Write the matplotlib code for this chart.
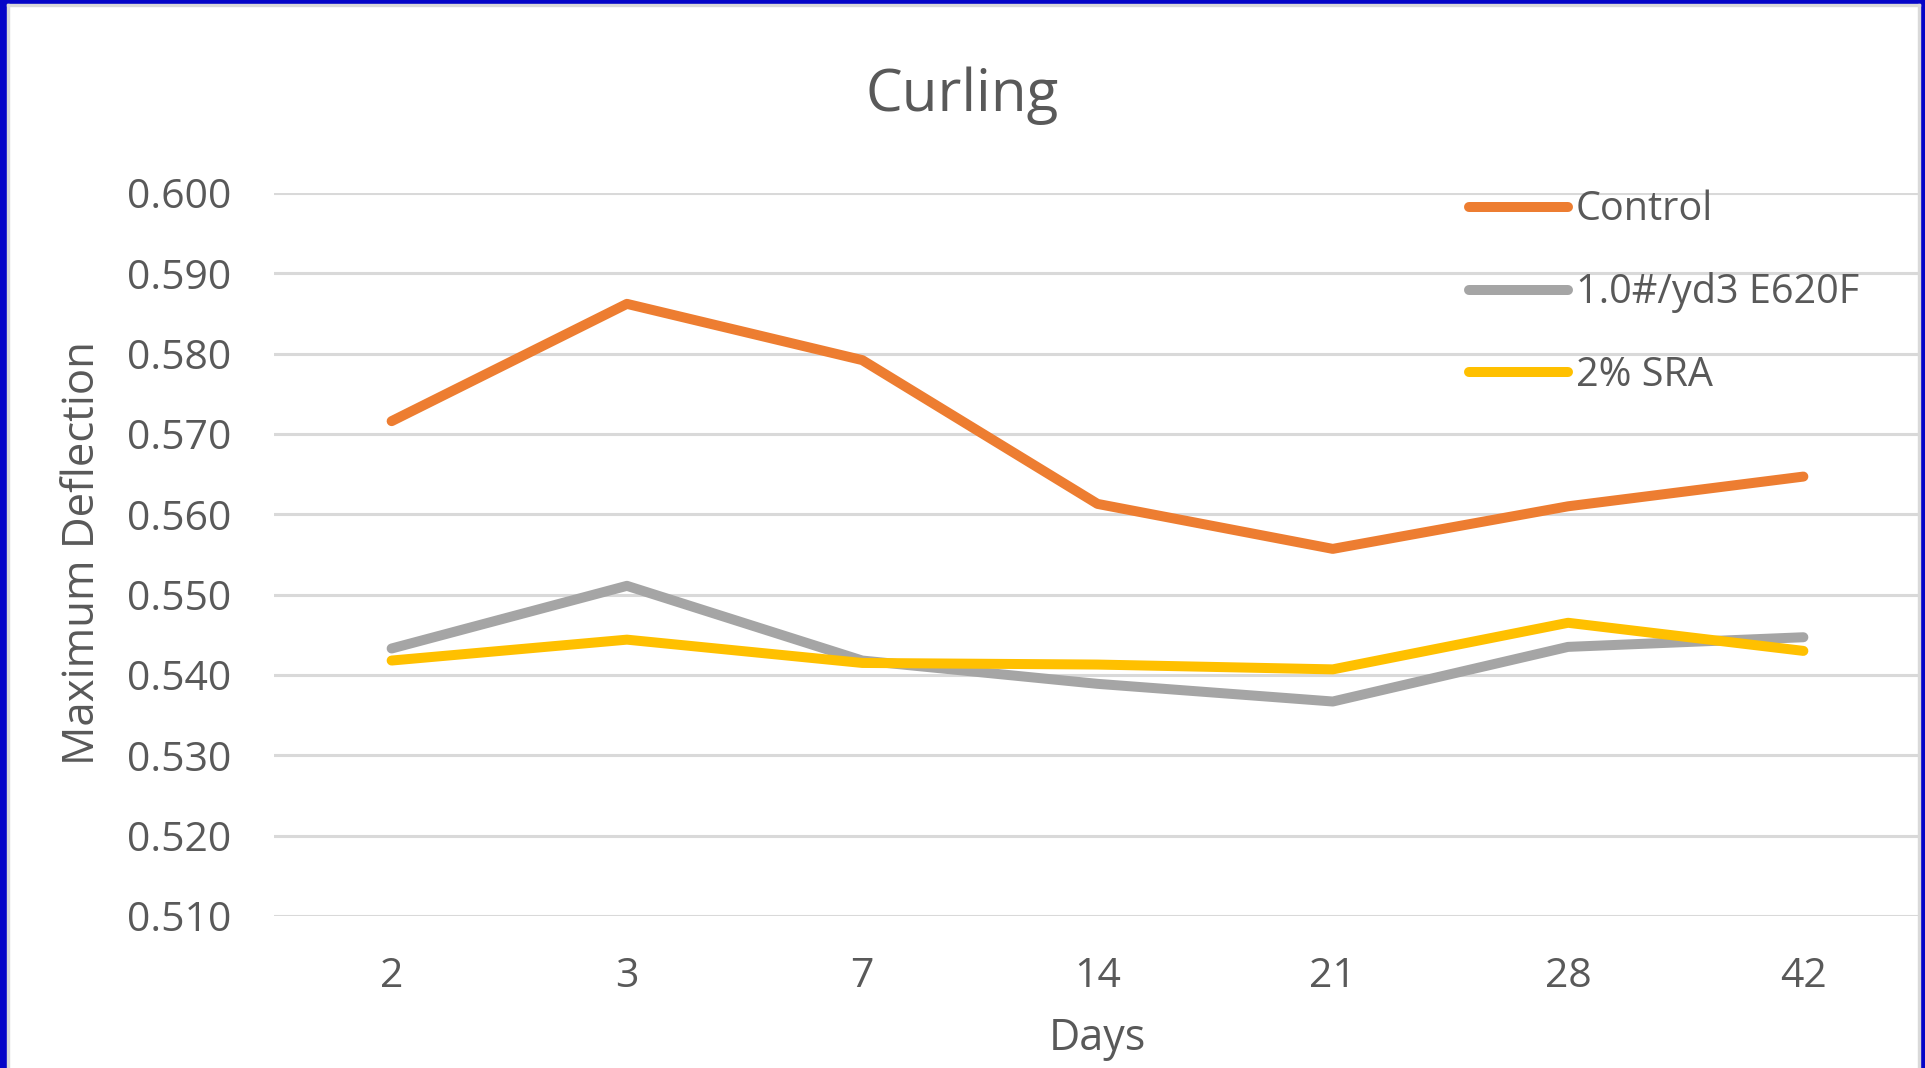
import matplotlib
matplotlib.use('Agg')
import matplotlib.pyplot as plt
from matplotlib.patches import Rectangle

# Data
days = ['2', '3', '7', '14', '21', '28', '42']
control = [0.5716, 0.5862, 0.5792, 0.5613, 0.5557, 0.5610, 0.5647]
e620f = [0.5433, 0.5511, 0.5418, 0.5389, 0.5367, 0.5435, 0.5447]
sra = [0.5418, 0.5444, 0.5415, 0.5413, 0.5407, 0.5465, 0.5430]
series_names = ['Control', '1.0#/yd3 E620F', '2% SRA']
yticks = [0.510, 0.520, 0.530, 0.540, 0.550, 0.560, 0.570, 0.580, 0.590, 0.600]

# Styling
text_color = '#595959'
grid_color = '#D9D9D9'
line_colors = ['#ED7D31', '#A5A5A5', '#FFC000']
plt.rcParams['font.family'] = ['Open Sans', 'DejaVu Sans']

W, H = 1925, 1068
fig = plt.figure(figsize=(W / 100, H / 100), dpi=100)
fig.patch.set_facecolor('white')

# Plot area in pixel coords -> figure fractions
left, right, bottom, top = 274, 1921, 1068 - 916, 1068 - 193
ax = fig.add_axes([left / W, bottom / H, (right - left) / W, (top - bottom) / H])

x = list(range(len(days)))
for vals, col, name in zip([control, e620f, sra], line_colors, series_names):
    ax.plot(x, vals, color=col, lw=7.2, label=name,
            solid_capstyle='round', solid_joinstyle='round', zorder=3)

ax.set_xlim(-0.5, len(days) - 0.5)
ax.set_ylim(0.510, 0.600)
ax.set_yticks(yticks)
ax.set_yticklabels([f'{v:.3f}' for v in yticks])
ax.set_xticks(x)
ax.set_xticklabels(days)

for s in ax.spines.values():
    s.set_visible(False)
ax.grid(axis='y', color=grid_color, lw=2.2, zorder=0)
ax.set_axisbelow(True)
ax.tick_params(axis='both', length=0, labelsize=29.5, labelcolor=text_color)
ax.tick_params(axis='y', pad=31)
ax.tick_params(axis='x', pad=29)

# Titles
fig.text(0.5, 1 - 111 / H, 'Curling', ha='center', va='baseline',
         fontsize=42, color=text_color)
fig.text(83 / W, 0.482, 'Maximum Deflection', rotation=90, ha='center',
         va='center', fontsize=31.5, color=text_color)
fig.text((left + right) / 2 / W, 1 - 1050 / H, 'Days', ha='center',
         va='baseline', fontsize=31, color=text_color)

# Legend
leg = ax.legend(loc='upper left', bbox_to_anchor=(1469 / W, 1 - 190 / H),
                bbox_transform=fig.transFigure, frameon=False, fontsize=28.5,
                handlelength=2.5, handletextpad=0.2, labelspacing=1.06,
                borderpad=0, borderaxespad=0)
for t in leg.get_texts():
    t.set_color(text_color)

# Blue frame with light inner border
blue = '#0505C8'
for rect in [(0, 0, 7, H), (0, H - 4, W, 4), (W - 5, 0, 5, H)]:
    fig.patches.append(Rectangle((rect[0] / W, rect[1] / H), rect[2] / W, rect[3] / H,
                                 transform=fig.transFigure, color=blue, zorder=10))
for rect in [(7, 0, 2, H - 4), (7, H - 6, W - 12, 2), (W - 7, 0, 2, H - 4)]:
    fig.patches.append(Rectangle((rect[0] / W, rect[1] / H), rect[2] / W, rect[3] / H,
                                 transform=fig.transFigure, color=grid_color, zorder=10))

fig.savefig('out.png', dpi=100)
